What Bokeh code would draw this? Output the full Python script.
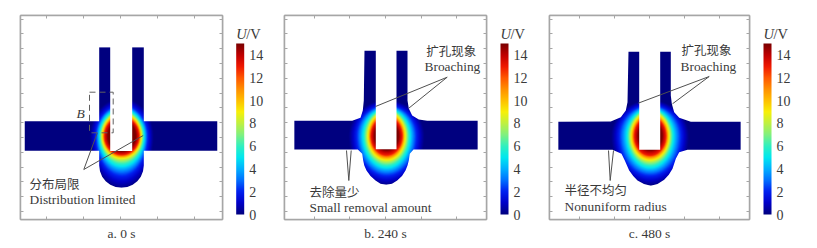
import numpy as np
from bokeh.embed import file_html
from bokeh.layouts import row
from bokeh.models import ColorBar, FixedTicker, Label, LinearAxis, LinearColorMapper, Range1d, Title
from bokeh.plotting import figure
from bokeh.resources import INLINE

# colour scale
scale_values = [0, 1, 2, 3, 4, 5, 6, 7, 8, 9, 10, 11, 12, 13, 14, 15]
scale_colors = ["#00007f", "#0000c8", "#0020f0", "#0070ff", "#00b0ff", "#00e8f0", "#30f0c0", "#80f080",
                "#c0f040", "#f8f008", "#ffc000", "#ff9000", "#ff5800", "#f01800", "#c00000", "#7a0000"]
bar_ticks = [0, 2, 4, 6, 8, 10, 12, 14]

# contour half-extents around the tool tip
levels = [15, 13, 9, 5, 2, 0]
side_a = [14, 17.3, 19.5, 22.5, 26, 32]
down_a = [15, 18.5, 22, 30, 40, 53]
up_a = [16, 19, 23, 27, 31, 38]
side_b = [12, 15.5, 18.5, 23.5, 30, 38]
down_b = [14, 19, 24, 31.7, 40, 50]
up_b = [15, 19, 24, 27.5, 31, 36]
side_c = [12, 15.7, 18.8, 23.3, 31, 39]
down_c = [14, 19.3, 24, 31.7, 40, 50]
up_c = [15, 19, 24, 27.5, 31, 36]
center_a = (121, 135)
center_b = (385.5, 135)
center_c = (649, 135)

# gap outlines
outline_a_x = [98.7, 109.7, 109.7, 131.7, 131.7, 143.3, 143.3, 217, 217, 143.3, 143.3, 142.5, 140.3, 136.8, 132.2,
               126.8, 121, 115.2, 109.8, 105.2, 101.7, 99.5, 98.7, 98.7, 24, 24, 98.7]
outline_a_y = [46.7, 46.7, 150.5, 150.5, 46.7, 46.7, 120.7, 120.7, 150.3, 150.3, 165, 170.8, 176.2, 180.8, 184.3,
               186.5, 187.3, 186.5, 184.3, 180.8, 176.2, 170.8, 165, 150.3, 150.3, 120.7, 120.7]
outline_b_x = [364, 375.3, 375.3, 396, 396, 407, 407, 408.3, 411.7, 418.3, 426.7, 477.3, 477.3, 413, 409.3, 408.3,
               407, 405, 401.5, 396.7, 391.5, 385.7, 380, 375, 370, 366, 363.8, 362.7, 361.7, 357.3, 293.7, 293.7,
               351.7, 360, 362.3, 363.3]
outline_b_y = [50, 50, 148.7, 148.7, 50, 50, 100, 108, 115, 119, 120.3, 120.3, 149, 149, 153.3, 160,
               165, 170, 175.5, 180, 183.2, 184.3, 183.2, 180, 175.5, 170, 165, 160, 153.3, 149, 149, 120.3,
               120.3, 117.3, 110, 100]
outline_c_x = [628, 638.7, 638.7, 659.7, 659.7, 670.3, 670.3, 671.3, 673.7, 678.7, 690.3, 740.3, 740.3, 687, 678.7,
               675.3, 672, 668.3, 663.7, 657, 650.3, 643.5, 637, 632.7, 628.7, 624.3, 621, 612, 557.7, 557.7,
               610.3, 620.3, 625.3, 627]
outline_c_y = [51, 51, 149.3, 149.3, 51, 51, 95, 103.3, 111.7, 117.3, 121.3, 121.3, 149.3, 149.3, 151.7,
               158.3, 168.3, 174.3, 179.3, 183.6, 185.3, 183.6, 180, 175.5, 170, 160, 153.3, 149.3, 149.3, 121.3,
               121, 116.7, 110, 101.7]

# frame ranges and ticks
range_a = (20, 222)
range_b = (284, 486)
range_c = (549, 749)
y_range = (219, 15)
xticks_a = [45.7, 82.7, 120, 157, 194]
xticks_b = [314.3, 349.3, 385, 420.7, 455.7]
xticks_c = [578.7, 613.7, 648.7, 683.7, 718.7]
yticks = [18.5, 33.3, 48.1, 62.9, 77.7, 92.5, 107.3, 122.1, 136.9, 151.7, 166.5, 181.3, 196.1, 210.9]

# annotations
notes_a = [("分布局限", 29, 182.7, "cjk"), ("Distribution limited", 29, 199, "latin")]
notes_b = [("扩孔现象", 425.7, 50, "cjk"), ("Broaching", 424, 66, "latin"),
           ("去除量少", 309, 191, "cjk"), ("Small removal amount", 309, 206.7, "latin")]
notes_c = [("扩孔现象", 681, 49, "cjk"), ("Broaching", 680, 65.7, "latin"),
           ("半径不均匀", 564, 189, "cjk"), ("Nonuniform radius", 564, 205.7, "latin")]
leaders_a = [([83.3, 96.7], [169, 132.7]), ([83.3, 142.7], [169, 135])]
leaders_b = [([446.7, 375], [76.7, 106]), ([446.7, 408.3], [76.7, 107.7]),
             ([348.3, 346], [180, 150]), ([348.3, 350.7], [180, 150])]
leaders_c = [([708.7, 637.7], [76, 102.7]), ([708.7, 672], [76, 103.3]),
             ([609.7, 608], [180, 150]), ([609.7, 613], [180, 150])]
caption_a = "a. 0 s"
caption_b = "b. 240 s"
caption_c = "c. 480 s"
box_b_x = [89, 112.7, 112.7, 89, 89]
box_b_y = [91.7, 91.7, 132.3, 132.3, 91.7]
bar_left_a = 235.7
bar_left_b = 500
bar_left_c = 763

TEXT = "#3a3a3a"
FRAME = "#a6a6a6"
SERIF = "Liberation Serif"
CJK = "Noto Sans CJK SC"


def make_palette():
    pos = np.linspace(0, 15, 256)
    rgb = np.array([[int(c[i:i + 2], 16) for i in (1, 3, 5)] for c in scale_colors], float)
    chan = [np.interp(pos, scale_values, rgb[:, k]) for k in range(3)]
    return ["#%02x%02x%02x" % (int(r), int(g), int(b)) for r, g, b in zip(*chan)]


MAPPER = LinearColorMapper(palette=make_palette(), low=0, high=15)


def field(px, py, center, side, down, up):
    dx = np.abs(px - center[0])
    dy = py - center[1]
    out = np.zeros(px.shape)
    g_prev = None
    for k, lev in enumerate(levels):
        b = down[k] * (dy >= 0) + up[k] * (dy < 0)
        g = np.sqrt((dx / side[k]) ** 2 + (dy / b) ** 2)
        if k == 0:
            out[g <= 1] = lev
        else:
            m = (g_prev > 1) & (g <= 1)
            t = (g_prev[m] - 1) / np.maximum(g_prev[m] - g[m], 1e-6)
            out[m] = levels[k - 1] + (lev - levels[k - 1]) * t
        g_prev = g
    return out


def panel(xr, xticks, ox, oy, center, side, down, up, left, right, notes, leaders, caption):
    p = figure(width=left + int(xr[1] - xr[0]) + right, height=244, x_range=Range1d(*xr), y_range=Range1d(*y_range),
               output_backend="svg", toolbar_location=None,
               min_border_left=left, min_border_right=right, min_border_top=15, min_border_bottom=25,
               background_fill_color="white", outline_line_color=FRAME, outline_line_width=1.5)
    p.grid.visible = False
    p.add_layout(LinearAxis(), "above")
    p.add_layout(LinearAxis(), "right")
    for ax, ticks in ((p.below[0], xticks), (p.above[0], xticks), (p.left[0], yticks), (p.right[0], yticks)):
        ax.ticker = FixedTicker(ticks=ticks)
        ax.minor_tick_line_color = None
        ax.major_tick_in = 3
        ax.major_tick_out = 0
        ax.major_tick_line_color = FRAME
        ax.axis_line_color = FRAME
        ax.axis_line_width = 1.5
        ax.major_label_overrides = {t: "" for t in ticks}
        ax.major_label_standoff = 0

    res = 2
    x0, y0 = min(ox), min(oy)
    x1, y1 = max(ox), max(oy)
    nx, ny = int((x1 - x0) * res), int((y1 - y0) * res)
    gx = x0 + (np.arange(nx) + 0.5) / res
    gy = y0 + (np.arange(ny) + 0.5) / res
    px, py = np.meshgrid(gx, gy)
    img = field(px, py, center, side, down, up)
    p.image(image=[img], x=x0, y=y0, dw=x1 - x0, dh=y1 - y0, color_mapper=MAPPER)

    # white mask with the gap shape as its hole: keeps the gap's edge smooth
    fx = [xr[0], xr[1], xr[1], xr[0]]
    fy = [y_range[1], y_range[1], y_range[0], y_range[0]]
    p.multi_polygons(xs=[[[fx, list(ox)]]], ys=[[[fy, list(oy)]]], fill_color="white", line_color=None)

    for lx, ly in leaders:
        p.line(lx, ly, line_color="#505050", line_width=1)
    for text, x, y, kind in notes:
        p.add_layout(Label(x=x, y=y, text=text, text_color=TEXT, text_baseline="middle", text_align="left",
                           text_font=CJK if kind == "cjk" else SERIF,
                           text_font_size="12.5px" if kind == "cjk" else "13.4px"))
    p.add_layout(Title(text=caption, align="center", text_color=TEXT, text_font=SERIF, text_font_style="normal",
                       text_font_size="13.5px", standoff=8), "below")
    return p


def bar_panel(x_start, width, bar_left):
    q = figure(width=width, height=244, x_range=Range1d(x_start, x_start + width), y_range=Range1d(*y_range),
               output_backend="svg", toolbar_location=None, x_axis_type=None, y_axis_type=None,
               min_border_left=0, min_border_right=0, min_border_top=15, min_border_bottom=25,
               background_fill_color="white", outline_line_color=None)
    q.grid.visible = False
    q.line([x_start, x_start + 1], [15, 15], line_color=None)
    bar = ColorBar(color_mapper=MAPPER, ticker=FixedTicker(ticks=bar_ticks), width=8, height=171,
                   location=(bar_left - x_start, 5), padding=0, margin=0, bar_line_color=None,
                   major_tick_line_color=None, major_label_text_font=SERIF, major_label_text_font_size="14px",
                   major_label_text_color=TEXT, label_standoff=5)
    q.add_layout(bar, "center")
    q.add_layout(Label(x=bar_left, y=33, text="U", text_font=SERIF, text_font_style="italic",
                       text_font_size="14.5px", text_color=TEXT, text_align="left", text_baseline="middle"))
    q.add_layout(Label(x=bar_left + 10, y=33, text="/V", text_font=SERIF,
                       text_font_size="14.5px", text_color=TEXT, text_align="left", text_baseline="middle"))
    return q


pa = panel(range_a, xticks_a, outline_a_x, outline_a_y, center_a, side_a, down_a, up_a, 20, 5,
           notes_a, leaders_a, caption_a)
qa = bar_panel(227, 45, bar_left_a)
pb = panel(range_b, xticks_b, outline_b_x, outline_b_y, center_b, side_b, down_b, up_b, 12, 6,
           notes_b, leaders_b, caption_b)
qb = bar_panel(492, 45, bar_left_b)
pc = panel(range_c, xticks_c, outline_c_x, outline_c_y, center_c, side_c, down_c, up_c, 12, 5,
           notes_c, leaders_c, caption_c)
qc = bar_panel(754, 46, bar_left_c)
pa.line(box_b_x, box_b_y, line_color="#606060", line_width=1, line_dash="6 4")
pa.add_layout(Label(x=80, y=112.7, text="B", text_font=SERIF, text_font_style="italic", text_font_size="13.5px",
                    text_color=TEXT, text_align="center", text_baseline="middle"))

open("out.html", "w").write(file_html(row(pa, qa, pb, qb, pc, qc, spacing=0), INLINE))
